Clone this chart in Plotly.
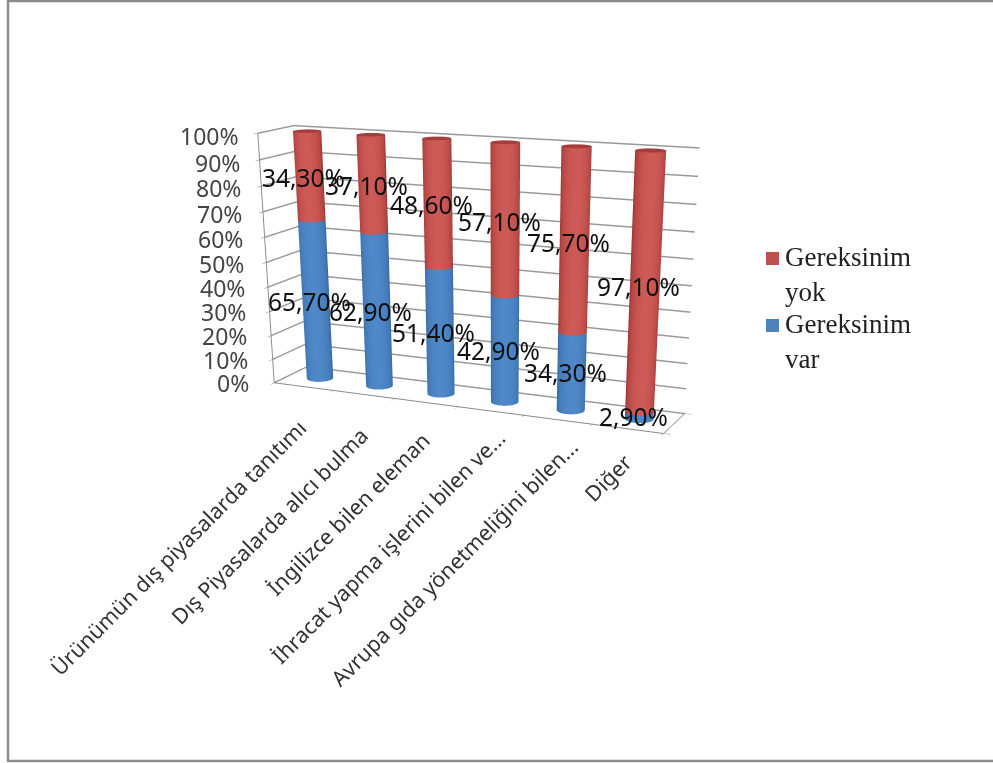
import numpy as np
import plotly.graph_objects as go

categories = ["Ürünümün dış piyasalarda tanıtımı", "Dış Piyasalarda alıcı bulma", "İngilizce bilen eleman",
              "İhracat yapma işlerini bilen ve...", "Avrupa gıda yönetmeliğini bilen...", "Diğer"]
var_values = [65.7, 62.9, 51.4, 42.9, 34.3, 2.9]
yok_values = [34.3, 37.1, 48.6, 57.1, 75.7, 97.1]
z_ticks = list(range(0, 101, 10))
label_dx = [3, 5, 4, 15, 20, 5]
label_dy = [0, 0, 4, 14, 14, 8]

# The figure is taller than the window: the 3D viewport height sets the perspective strength.
PAGE_W, PAGE_H = 993, 1200
EYE = (1.3874, -3.036, 0.705)
CENTER = (0.1628, -0.2306, -0.6978)
ASPECT_Y, ASPECT_Z = 0.16, 0.5887

RED, BLUE = '#C0504D', '#4F81BD'
red_scale = [[0, '#8E2F2D'], [.35, '#B0423F'], [1, '#CE5A57']]
blue_scale = [[0, '#2F5F98'], [.35, '#3F74B2'], [1, '#4F88C8']]
LIGHTING = dict(ambient=1, diffuse=0, specular=0, fresnel=0, roughness=1)

n = len(categories)
radius = 0.0325
theta = np.linspace(0, 2 * np.pi, 61)
# Brightest where the surface faces the viewer, darkest on the silhouette
shade = np.abs(np.cos(theta - np.arctan2(EYE[1], EYE[0])))

fig = go.Figure()


def cylinder(i, z0, z1, scale, cap):
    xc, rx, ry = i + .5, radius * n, radius / ASPECT_Y
    x = np.array([xc + rx * np.cos(theta)] * 2)
    y = np.array([.5 + ry * np.sin(theta)] * 2)
    z = np.array([np.full_like(theta, z0), np.full_like(theta, z1)])
    fig.add_trace(go.Surface(x=x, y=y, z=z, surfacecolor=np.array([shade, shade]), cmin=0, cmax=1,
                             colorscale=scale, showscale=False, lighting=LIGHTING, hoverinfo='skip'))
    xt = np.array([xc + 0 * theta, xc + rx * np.cos(theta)])
    yt = np.array([.5 + 0 * theta, .5 + ry * np.sin(theta)])
    fig.add_trace(go.Surface(x=xt, y=yt, z=np.full_like(xt, z1), surfacecolor=np.full_like(xt, cap), cmin=0, cmax=1,
                             colorscale=scale, showscale=False, lighting=LIGHTING, hoverinfo='skip'))


def pct(v):
    return f"{v:.2f}".replace('.', ',') + "%"


scene_notes = []
value_font = dict(family='Noto Sans', size=24.5, color='#111111')
for i in range(n):
    # Stacked to 100%: each column is scaled by its own total
    split = var_values[i] / (var_values[i] + yok_values[i]) * 100
    cylinder(i, 0, split, blue_scale, .8)
    cylinder(i, split, 100, red_scale, .25)
    for zm, v in ((split / 2, var_values[i]), ((split + 100) / 2, yok_values[i])):
        scene_notes.append(dict(x=i + .5, y=.5, z=zm, text=pct(v), showarrow=False, font=value_font, xshift=-6, yshift=-1))
    scene_notes.append(dict(x=i + .5, y=0, z=0, text=categories[i], textangle=-45, showarrow=False,
                            xanchor='right', yanchor='top', xshift=8 + label_dx[i], yshift=-24 + label_dy[i],
                            font=dict(family='Noto Sans', size=21.5, color='#333333')))
for v in z_ticks:
    scene_notes.append(dict(x=0, y=0, z=v, text=f"{v}%", showarrow=False, xanchor='right',
                            xshift=-23 + v * .06, yshift=-v * .03,
                            font=dict(family='Noto Sans', size=23, color='#444444')))


def yp(v):
    return 1 - v / PAGE_H


frame = dict(color='#8c8c8c', width=2.5)
shapes = [dict(type='line', xref='paper', yref='paper', x0=8 / PAGE_W, x1=8 / PAGE_W, y0=yp(0), y1=yp(762), line=frame),
          dict(type='line', xref='paper', yref='paper', x0=8 / PAGE_W, x1=1, y0=yp(1), y1=yp(1), line=frame),
          dict(type='line', xref='paper', yref='paper', x0=8 / PAGE_W, x1=1, y0=yp(761), y1=yp(761), line=frame)]
notes = []
for name, col, top in (("Gereksinim<br>yok", RED, 240), ("Gereksinim<br>var", BLUE, 307)):
    notes.append(dict(xref='paper', yref='paper', x=783 / PAGE_W, y=yp(top), xanchor='left', yanchor='top', align='left',
                      showarrow=False, text=name, font=dict(family='Liberation Serif', size=27, color='#222222')))
    shapes.append(dict(type='rect', xref='paper', yref='paper', x0=766 / PAGE_W, x1=779 / PAGE_W,
                       y0=yp(top + 12), y1=yp(top + 25), fillcolor=col, line=dict(width=0)))

axis_base = dict(showbackground=False, showticklabels=False, title='', showgrid=False, zeroline=False, showspikes=False,
                 ticks='outside', ticklen=6, tickcolor='#888888', showline=True, linecolor='#8a8a8a', linewidth=2)
fig.update_layout(
    width=PAGE_W, height=PAGE_H, margin=dict(l=0, r=0, t=0, b=0), paper_bgcolor='white', showlegend=False,
    scene=dict(
        domain=dict(x=[0, 1], y=[0, 1]), aspectmode='manual', aspectratio=dict(x=1, y=ASPECT_Y, z=ASPECT_Z),
        camera=dict(eye=dict(x=EYE[0], y=EYE[1], z=EYE[2]), center=dict(x=CENTER[0], y=CENTER[1], z=CENTER[2]),
                    up=dict(x=0, y=0, z=1), projection=dict(type='perspective')),
        xaxis=dict(axis_base, range=[0, n], tickvals=list(range(n + 1))),
        yaxis=dict(axis_base, range=[0, 1], tickvals=[0, 1]),
        zaxis=dict(axis_base, range=[0, 100], tickvals=z_ticks, showgrid=True, gridcolor='#9a9a9a', gridwidth=3),
        annotations=scene_notes),
    shapes=shapes, annotations=notes)
fig.write_html("out.html", post_script="document.documentElement.style.overflow='hidden';document.body.style.overflow='hidden';")
